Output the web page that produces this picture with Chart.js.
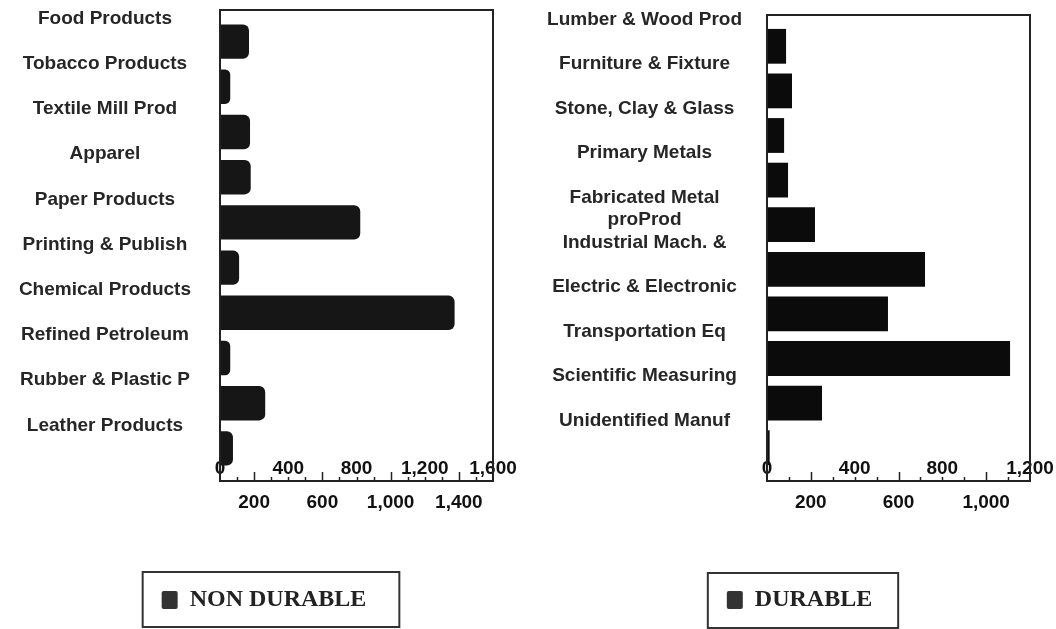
<!DOCTYPE html>
<html>
<head>
<meta charset="utf-8">
<title>Non durable and durable manufacturing</title>
<script src="https://cdn.jsdelivr.net/npm/chart.js@4.4.1/dist/chart.umd.min.js"></script>
<style>
  html, body { margin: 0; padding: 0; background: #ffffff; }
  #wrap { position: relative; width: 1056px; height: 629px; overflow: hidden; }
  .panel { position: absolute; top: 0; width: 528px; height: 629px; }
  #left { left: 0; }
  #right { left: 528px; }
</style>
</head>
<body>
<div id="wrap">
  <div class="panel" id="left"><canvas id="nonDurableChart" width="528" height="629"></canvas></div>
  <div class="panel" id="right"><canvas id="durableChart" width="528" height="629"></canvas></div>
</div>
<script>
// ---- data ----
const nonDurableIndustries = [
  'Food Products', 'Tobacco Products', 'Textile Mill Prod', 'Apparel', 'Paper Products',
  'Printing & Publish', 'Chemical Products', 'Refined Petroleum', 'Rubber & Plastic P', 'Leather Products'
];
const nonDurableValues = [170, 60, 176, 180, 822, 112, 1375, 60, 265, 76];

const durableIndustries = [
  'Lumber & Wood Prod', 'Furniture & Fixture', 'Stone, Clay & Glass', 'Primary Metals',
  ['', 'Fabricated Metal', 'proProd'], 'Industrial Mach. &', 'Electric & Electronic',
  'Transportation Eq', 'Scientific Measuring', 'Unidentified Manuf'
];
const durableValues = [87, 114, 78, 96, 219, 721, 552, 1109, 251, 12];

// value-axis labels: upper row and lower (staggered) row
const nonDurableTicksUpper = [0, 400, 800, 1200, 1600];
const nonDurableTicksLower = [200, 600, 1000, 1400];
const durableTicksUpper = [0, 400, 800, 1200];
const durableTicksLower = [200, 600, 1000];

const sansFont = '"Liberation Sans", Arial, Helvetica, sans-serif';
const serifFont = '"Liberation Serif", "Times New Roman", serif';

// Box around the plot area, with tick marks rising from its bottom edge
const plotFrame = {
  id: 'plotFrame',
  afterDatasetsDraw(chart, args, o) {
    const { ctx, chartArea: a } = chart;
    const xs = chart.scales.x;
    const top = a.top - o.extTop;
    const bottom = a.bottom + o.extBottom;
    ctx.save();
    ctx.strokeStyle = '#222';
    ctx.lineWidth = 2;
    ctx.strokeRect(a.left, top, a.right - a.left, bottom - top);
    ctx.lineWidth = 1.5;
    ctx.beginPath();
    for (let v = xs.min + 100; v < xs.max; v += 100) {
      const px = Math.round(xs.getPixelForValue(v)) + 0.5;
      const len = (v % 400 === 200) ? 9 : 4;
      ctx.moveTo(px, bottom);
      ctx.lineTo(px, bottom - len);
    }
    ctx.stroke();
    ctx.restore();
  }
};

// Rectangle drawn around the legend entry
const legendFrame = {
  id: 'legendFrame',
  afterDraw(chart, args, o) {
    const lg = chart.legend;
    if (!lg || !lg.legendHitBoxes || !lg.legendHitBoxes.length) return;
    const hb = lg.legendHitBoxes[0];
    const ctx = chart.ctx;
    ctx.save();
    ctx.strokeStyle = '#333';
    ctx.lineWidth = 2;
    ctx.strokeRect(hb.left - o.padL, hb.top - o.padT,
      hb.width + o.padL + o.padR, hb.height + o.padT + o.padB);
    ctx.restore();
  }
};

function makeChart(canvasId, cfg) {
  const fmt = v => v.toLocaleString('en-US');
  return new Chart(document.getElementById(canvasId), {
    type: 'bar',
    data: {
      labels: cfg.labels,
      datasets: [{
        label: cfg.title,
        data: cfg.values,
        backgroundColor: cfg.barColor,
        borderWidth: 0,
        borderRadius: cfg.radius,
        barPercentage: cfg.barPct,
        categoryPercentage: 1
      }]
    },
    options: {
      indexAxis: 'y',
      responsive: false,
      animation: false,
      devicePixelRatio: 1,
      layout: { padding: { top: cfg.padTop, left: cfg.padLeft, right: 0, bottom: 7 } },
      scales: {
        y: {
          grid: { display: false, drawTicks: false },
          border: { display: false },
          ticks: {
            autoSkip: false,
            crossAlign: 'center',
            padding: cfg.labelPad,
            labelOffset: cfg.labelShift,
            color: '#262626',
            font: { family: sansFont, weight: 'bold', size: 19, lineHeight: 1.15 }
          },
          afterFit(s) {
            s.width = cfg.axisWidth;
            s.paddingTop = 0;
            s.paddingBottom = 0;
          }
        },
        x: {
          min: 0,
          max: cfg.max,
          grid: { display: false, drawTicks: false },
          border: { display: false },
          ticks: {
            stepSize: 200,
            autoSkip: false,
            maxRotation: 0,
            minRotation: 0,
            mirror: true,
            padding: cfg.tickPad,
            color: '#111',
            font: { family: sansFont, weight: 'bold', size: 19, lineHeight: 34 / 19 },
            callback(value) {
              if (cfg.upper.includes(value)) return [fmt(value)];
              if (cfg.lower.includes(value)) return ['', fmt(value)];
              return '';
            }
          },
          afterFit(s) { s.height = cfg.axisHeight; s.paddingRight = cfg.rightGap; }
        }
      },
      plugins: {
        tooltip: { enabled: false },
        legend: {
          position: 'bottom',
          align: 'center',
          labels: {
            boxWidth: 16,
            boxHeight: 18,
            padding: 10,
            useBorderRadius: true,
            borderRadius: 2,
            color: '#222',
            font: { family: serifFont, weight: 'bold', size: 24 },
            generateLabels(chart) {
              return Chart.defaults.plugins.legend.labels.generateLabels(chart).map(it => {
                it.fillStyle = '#333';
                it.strokeStyle = '#333';
                it.lineWidth = 0;
                return it;
              });
            }
          }
        },
        plotFrame: cfg.frame,
        legendFrame: cfg.legendBox
      }
    },
    plugins: [plotFrame, legendFrame]
  });
}

makeChart('nonDurableChart', {
  title: 'NON DURABLE',
  labels: nonDurableIndustries,
  values: nonDurableValues,
  upper: nonDurableTicksUpper,
  lower: nonDurableTicksLower,
  max: 1600,
  barColor: '#161616',
  radius: 6,
  barPct: 0.76,
  padTop: 19,
  padLeft: 0,
  axisWidth: 220,
  labelPad: 29,
  labelShift: -23,
  tickPad: -15,
  axisHeight: 107,
  rightGap: 35,
  frame: { extTop: 9, extBottom: 10 },
  legendBox: { padL: 19, padR: 33, padT: 16, padB: 15 }
});

makeChart('durableChart', {
  title: 'DURABLE',
  labels: durableIndustries,
  values: durableValues,
  upper: durableTicksUpper,
  lower: durableTicksLower,
  max: 1200,
  barColor: '#0b0b0b',
  radius: 0,
  barPct: 0.78,
  padTop: 24,
  padLeft: 15,
  axisWidth: 224,
  labelPad: 25,
  labelShift: -27,
  tickPad: -16,
  axisHeight: 108,
  rightGap: 26,
  frame: { extTop: 9, extBottom: 11 },
  legendBox: { padL: 19, padR: 26, padT: 15, padB: 16 }
});
</script>
</body>
</html>
